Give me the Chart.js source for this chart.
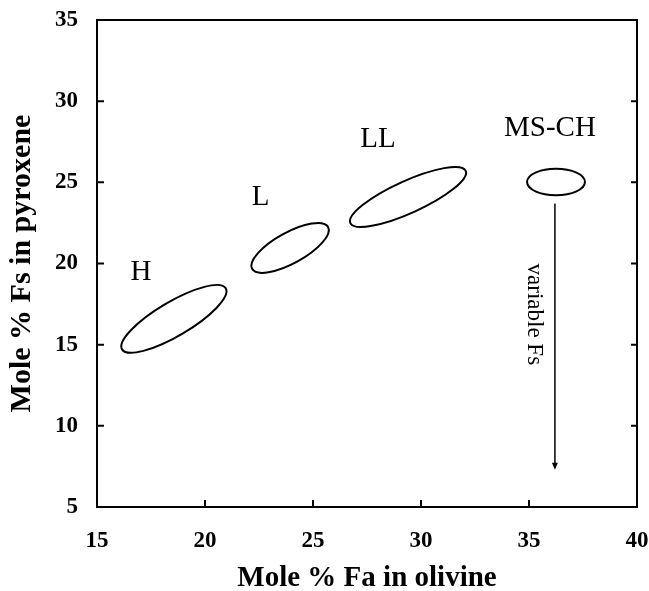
<!DOCTYPE html>
<html>
<head>
<meta charset="utf-8">
<script src="https://cdn.jsdelivr.net/npm/chart.js@4/dist/chart.umd.min.js"></script>
<style>
  body { margin: 0; background: #fff; }
  #box { width: 649px; height: 591px; }
</style>
</head>
<body>
<div id="box"><canvas id="grafico"></canvas></div>
<script>
// campos dos meteoritos (Fa no olivina x Fs no piroxenio)
const grupos = ['H', 'L', 'LL', 'MS-CH'];
const centroFa = [18.56, 23.94, 29.40, 36.25];
const centroFs = [16.59, 20.96, 24.10, 25.02];
// ponta do eixo maior e do eixo menor de cada elipse
const eixoMaiorFa = [20.96, 25.70, 32.07, 37.59];
const eixoMaiorFs = [18.47, 22.25, 25.71, 25.02];
const eixoMenorFa = [18.97, 24.28, 29.71, 36.25];
const eixoMenorFs = [15.69, 20.12, 23.20, 24.21];
// onde fica o nome de cada grupo
const rotuloFa = [17.04, 22.57, 28.01, 35.97];
const rotuloFs = [19.48, 24.07, 27.67, 28.32];
// seta "variable Fs"
const setaFa = 36.2;
const setaFs = [23.7, 7.3];
const notaTexto = 'variable Fs';
const notaFa = 35.25;
const notaFs = 16.87;

const ticksX = [15, 20, 25, 30, 35, 40];
const ticksY = [5, 10, 15, 20, 25, 30, 35];

const serif = '"Liberation Serif", "Times New Roman", serif';

const desenhos = {
  id: 'desenhos',
  afterDatasetsDraw(chart) {
    const { ctx, chartArea: a, scales: { x, y } } = chart;
    ctx.save();
    ctx.strokeStyle = '#000';
    ctx.fillStyle = '#000';

    // moldura e tracinhos para dentro
    ctx.lineWidth = 2;
    ctx.strokeRect(a.left, a.top, a.right - a.left, a.bottom - a.top);
    ctx.beginPath();
    ticksY.forEach(v => {
      const py = y.getPixelForValue(v);
      ctx.moveTo(a.left, py); ctx.lineTo(a.left + 7, py);
      ctx.moveTo(a.right, py); ctx.lineTo(a.right - 6, py);
    });
    ticksX.forEach(v => {
      const px = x.getPixelForValue(v);
      ctx.moveTo(px, a.bottom); ctx.lineTo(px, a.bottom - 7);
    });
    ctx.stroke();

    // elipses
    ctx.lineWidth = 2;
    grupos.forEach((g, i) => {
      const cx = x.getPixelForValue(centroFa[i]);
      const cy = y.getPixelForValue(centroFs[i]);
      const mx = x.getPixelForValue(eixoMaiorFa[i]) - cx;
      const my = y.getPixelForValue(eixoMaiorFs[i]) - cy;
      const nx = x.getPixelForValue(eixoMenorFa[i]) - cx;
      const ny = y.getPixelForValue(eixoMenorFs[i]) - cy;
      ctx.beginPath();
      ctx.ellipse(cx, cy, Math.hypot(mx, my), Math.hypot(nx, ny), Math.atan2(my, mx), 0, Math.PI * 2);
      ctx.stroke();
    });

    // nomes dos grupos
    ctx.font = '29px ' + serif;
    ctx.textAlign = 'center';
    ctx.textBaseline = 'middle';
    grupos.forEach((g, i) => {
      ctx.fillText(g, x.getPixelForValue(rotuloFa[i]), y.getPixelForValue(rotuloFs[i]));
    });

    // seta
    const sx = x.getPixelForValue(setaFa);
    const y0 = y.getPixelForValue(setaFs[0]);
    const y1 = y.getPixelForValue(setaFs[1]);
    ctx.lineWidth = 1.5;
    ctx.beginPath();
    ctx.moveTo(sx, y0); ctx.lineTo(sx, y1 - 6);
    ctx.stroke();
    ctx.beginPath();
    ctx.moveTo(sx - 3, y1 - 7); ctx.lineTo(sx + 3, y1 - 7); ctx.lineTo(sx, y1);
    ctx.closePath();
    ctx.fill();

    // texto vertical
    ctx.save();
    ctx.translate(x.getPixelForValue(notaFa), y.getPixelForValue(notaFs));
    ctx.rotate(Math.PI / 2);
    ctx.font = '23px ' + serif;
    ctx.fillText(notaTexto, 0, 0);
    ctx.restore();

    ctx.restore();
  }
};

// eixos vazios so pra reservar margem em cima e na direita
const eixoVazio = {
  type: 'linear', min: 0, max: 1,
  grid: { display: false, drawTicks: false },
  border: { display: false },
  ticks: { display: false }
};

// tracinho invisivel: so empurra o rotulo pra longe do eixo
const gradeInvisivel = (len) => ({
  display: true, drawOnChartArea: false, drawTicks: true,
  tickLength: len, color: 'rgba(0,0,0,0)'
});

const ctx10 = document.getElementById('grafico');
const graficoMet = new Chart(ctx10, {
  type: 'scatter',
  data: {
    datasets: [{
      label: 'centros',
      data: centroFa.map((v, i) => ({ x: v, y: centroFs[i] })),
      pointRadius: 0
    }]
  },
  options: {
    responsive: true,
    maintainAspectRatio: false,
    animation: false,
    layout: { padding: 0 },
    plugins: { legend: { display: false }, tooltip: { enabled: false } },
    scales: {
      x: {
        type: 'linear', min: 15, max: 40,
        afterBuildTicks: s => { s.ticks = ticksX.map(v => ({ value: v })); },
        afterFit: s => { s.height = 84; },
        grid: gradeInvisivel(20),
        border: { display: false },
        ticks: { color: '#000', padding: 0, font: { family: serif, size: 23, weight: 'bold' } },
        title: {
          display: true, text: 'Mole % Fa in olivine', color: '#000',
          font: { family: serif, size: 29, weight: 'bold', lineHeight: 1 },
          padding: { top: 0, bottom: -2 }
        }
      },
      y: {
        type: 'linear', min: 5, max: 35,
        afterBuildTicks: s => { s.ticks = ticksY.map(v => ({ value: v })); },
        afterFit: s => { s.width = 97; },
        grid: gradeInvisivel(19),
        border: { display: false },
        ticks: { color: '#000', padding: 0, font: { family: serif, size: 23, weight: 'bold' } },
        title: {
          display: true, text: 'Mole % Fs in pyroxene', color: '#000',
          font: { family: serif, size: 30, weight: 'bold', lineHeight: 1 },
          padding: { top: 7, bottom: 0 }
        }
      },
      topo: Object.assign({}, eixoVazio, { position: 'top', afterFit: s => { s.height = 20; } }),
      direita: Object.assign({}, eixoVazio, { position: 'right', afterFit: s => { s.width = 12; } })
    }
  },
  plugins: [desenhos]
});
</script>
</body>
</html>
